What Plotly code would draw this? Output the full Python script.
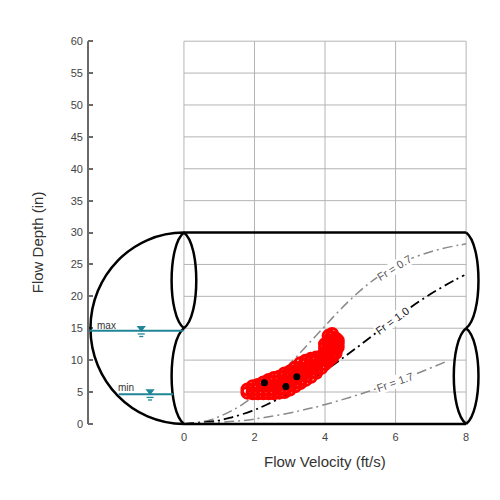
import plotly.graph_objects as go

# measured flow data (ft/s, in)
obs_velocity = [
    1.80, 1.80,
    1.95, 1.95, 1.95,
    2.10, 2.10, 2.10,
    2.25, 2.25, 2.25, 2.25,
    2.40, 2.40, 2.40, 2.40, 2.40,
    2.55, 2.55, 2.55, 2.55, 2.55,
    2.70, 2.70, 2.70, 2.70, 2.70,
    2.85, 2.85, 2.85, 2.85, 2.85, 2.85,
    3.00, 3.00, 3.00, 3.00, 3.00, 3.00,
    3.15, 3.15, 3.15, 3.15, 3.15, 3.15,
    3.30, 3.30, 3.30, 3.30, 3.30, 3.30,
    3.45, 3.45, 3.45, 3.45, 3.45, 3.45,
    3.60, 3.60, 3.60, 3.60, 3.60, 3.60,
    3.75, 3.75, 3.75, 3.75, 3.75,
    3.90, 3.90, 3.90, 3.90,
    4.00, 4.00, 4.00, 4.00, 4.00, 4.00,
    4.10, 4.10, 4.10, 4.10, 4.10, 4.10, 4.10,
    4.20, 4.20, 4.20, 4.20, 4.20, 4.20, 4.20,
    4.30, 4.30, 4.30, 4.30, 4.30,
    4.36, 4.36, 4.36,
]
obs_depth = [
    4.9, 5.4,
    4.8, 5.4, 5.9,
    4.8, 5.4, 6.1,
    4.8, 5.4, 6.0, 6.5,
    4.8, 5.4, 6.0, 6.6, 6.9,
    4.8, 5.4, 6.0, 6.6, 7.2,
    4.9, 5.5, 6.1, 6.7, 7.4,
    5.0, 5.6, 6.2, 6.8, 7.4, 7.9,
    5.4, 6.0, 6.6, 7.2, 7.8, 8.2,
    5.9, 6.5, 7.1, 7.7, 8.3, 8.8,
    6.4, 7.0, 7.6, 8.2, 8.8, 9.5,
    6.9, 7.5, 8.1, 8.7, 9.3, 9.9,
    7.4, 8.0, 8.6, 9.2, 9.8, 10.2,
    8.0, 8.6, 9.2, 9.8, 10.4,
    8.8, 9.4, 10.0, 10.6,
    9.4, 10.0, 10.6, 11.2, 11.9, 12.5,
    9.9, 10.5, 11.1, 11.7, 12.4, 13.1, 13.8,
    10.4, 11.0, 11.6, 12.2, 12.9, 13.6, 14.1,
    11.1, 11.7, 12.3, 12.9, 13.4,
    12.0, 12.6, 13.1,
]

# highlighted points
sel_velocity = [2.28, 2.89, 3.20]
sel_depth = [6.47, 5.85, 7.41]

# Froude number lines
fr07_depth = [0, 0.5, 1, 2, 3, 5, 7.5, 10, 12.5, 15, 17.5, 20, 22.5, 25, 26.25, 27, 27.5, 28, 28.2]
fr07_velocity = [0, 0.66, 0.94, 1.33, 1.64, 2.13, 2.64, 3.10, 3.52, 3.94, 4.36, 4.82, 5.36, 6.08, 6.59, 7.00, 7.34, 7.77, 8.0]
fr10_depth = [0, 0.5, 1, 2, 3, 5, 7.5, 10, 12.5, 15, 17.5, 20, 22.5, 23.3]
fr10_velocity = [0, 0.95, 1.34, 1.91, 2.34, 3.05, 3.78, 4.42, 5.03, 5.62, 6.23, 6.89, 7.66, 7.95]
fr17_depth = [0, 0.5, 1, 2, 3, 5, 7.5, 9.7]
fr17_velocity = [0, 1.61, 2.28, 3.24, 3.98, 5.18, 6.42, 7.40]

# water levels (in)
max_level = 14.6
min_level = 4.65

x_ticks = [0, 2, 4, 6, 8]
y_ticks = list(range(0, 65, 5))

PIPE_D = 30
PIPE_L = 8
CAP = 2.65      # depth of the left end cap
BULGE = 0.35    # lens bulge at the pipe ends
WATER = "#1f8597"
FONT = "Arial, Liberation Sans, sans-serif"

fig = go.Figure()

# grid only over the 0-8 range
shapes = []
for xv in x_ticks:
    shapes.append(dict(type="line", x0=xv, x1=xv, y0=0, y1=60, layer="below",
                       line=dict(color="#b4b4b4", width=1)))
for yv in y_ticks[1:]:
    shapes.append(dict(type="line", x0=0, x1=PIPE_L, y0=yv, y1=yv, layer="below",
                       line=dict(color="#b4b4b4", width=1)))

# y axis line
shapes.append(dict(type="line", xref="paper", x0=0, x1=0, y0=0, y1=60,
                   line=dict(color="#6a6a6a", width=2)))


def arc(x, y_top, y_bot, side):
    c = side * BULGE * 4 / 3
    h = (y_top - y_bot) * 0.13
    return (f"M {x},{y_top} C {x + c},{y_top - h} {x + c},{y_bot + h} {x},{y_bot}")


k = 0.5523
r = PIPE_D / 2
pipe_paths = [
    f"M 0,{PIPE_D} L {PIPE_L},{PIPE_D}",
    f"M 0,0 L {PIPE_L},0",
    (f"M 0,{PIPE_D} C {-k * CAP},{PIPE_D} {-CAP},{r + k * r} {-CAP},{r} "
     f"C {-CAP},{r - k * r} {-k * CAP},0 0,0"),
    arc(0, PIPE_D, r, -1),
    arc(0, PIPE_D, r, 1),
    arc(0, r, 0, -1),
    arc(PIPE_L, PIPE_D, r, 1),
    arc(PIPE_L, r, 0, -1),
    arc(PIPE_L, r, 0, 1),
]
for p in pipe_paths:
    shapes.append(dict(type="path", path=p, line=dict(color="black", width=2.5)))

# water levels
shapes.append(dict(type="line", x0=-2.68, x1=-0.02, y0=max_level, y1=max_level,
                   line=dict(color=WATER, width=2)))
shapes.append(dict(type="line", x0=-1.85, x1=-0.3, y0=min_level, y1=min_level,
                   line=dict(color=WATER, width=2)))
sym_x = [-1.21, -0.96]
for sx, lv in zip(sym_x, [max_level, min_level]):
    for dy, half in [(-0.5, 3.5), (-0.9, 2)]:
        shapes.append(dict(type="line", xsizemode="pixel", xanchor=sx, x0=-half, x1=half,
                           y0=lv + dy, y1=lv + dy, line=dict(color=WATER, width=1.3)))

fig.add_trace(go.Scatter(x=sym_x, y=[max_level + 0.45, min_level + 0.45], mode="markers",
                         marker=dict(symbol="triangle-down", size=8, color=WATER),
                         showlegend=False))

dash = "10px,4px,2px,4px"
for vel, dep, col, w in [(fr07_velocity, fr07_depth, "#8a8a8a", 1.5),
                         (fr10_velocity, fr10_depth, "black", 1.8),
                         (fr17_velocity, fr17_depth, "#8a8a8a", 1.5)]:
    fig.add_trace(go.Scatter(x=vel, y=dep, mode="lines", line_shape="spline",
                             line=dict(color=col, width=w, dash=dash),
                             showlegend=False, hoverinfo="skip"))

fig.add_trace(go.Scatter(x=obs_velocity, y=obs_depth, mode="markers",
                         marker=dict(symbol="circle-open", size=11, color="#ff0000",
                                     line=dict(width=3)),
                         showlegend=False))
fig.add_trace(go.Scatter(x=sel_velocity, y=sel_depth, mode="markers",
                         marker=dict(symbol="circle", size=7, color="black"),
                         showlegend=False))

annotations = [
    dict(x=5.95, y=24.5, text="Fr = 0.7", textangle=-32, font=dict(size=11, color="#555")),
    dict(x=5.89, y=16.2, text="Fr = 1.0", textangle=-36, font=dict(size=11, color="#222")),
    dict(x=5.99, y=6.5, text="Fr = 1.7", textangle=-20, font=dict(size=11, color="#555")),
]
for a in annotations:
    a.update(showarrow=False, bgcolor="white", borderpad=0)
annotations += [
    dict(x=-2.2, y=15.5, text="max", showarrow=False, font=dict(size=10, color="#333")),
    dict(x=-1.63, y=5.7, text="min", showarrow=False, font=dict(size=10, color="#333")),
    dict(xref="paper", yref="paper", x=0.6015, y=-0.082, xanchor="center", yanchor="middle",
         text="Flow Velocity (ft/s)", showarrow=False, font=dict(size=15, color="#333")),
    dict(xref="paper", yref="paper", x=-0.129, y=0.478, xanchor="center", yanchor="middle",
         text="Flow Depth (in)", textangle=-90, showarrow=False,
         font=dict(size=15, color="#333")),
]

fig.update_layout(
    template="none",
    width=500, height=500,
    margin=dict(l=80, r=26, t=30, b=79),
    plot_bgcolor="white", paper_bgcolor="white",
    font=dict(family=FONT, color="#333", size=11),
    shapes=shapes, annotations=annotations,
    xaxis=dict(range=[-2.72, 8.45], tickvals=x_ticks, showgrid=False, zeroline=False,
               showline=False, ticks="", tickfont=dict(size=11, color="#444444")),
    yaxis=dict(range=[-0.8, 60.5], tickvals=y_ticks, showgrid=False, zeroline=False,
               showline=False, ticks="inside", ticklen=5, tickcolor="#6a6a6a", tickwidth=1.5,
               ticklabelstandoff=4, tickfont=dict(size=11, color="#444444")),
)

fig.write_html("out.html")
